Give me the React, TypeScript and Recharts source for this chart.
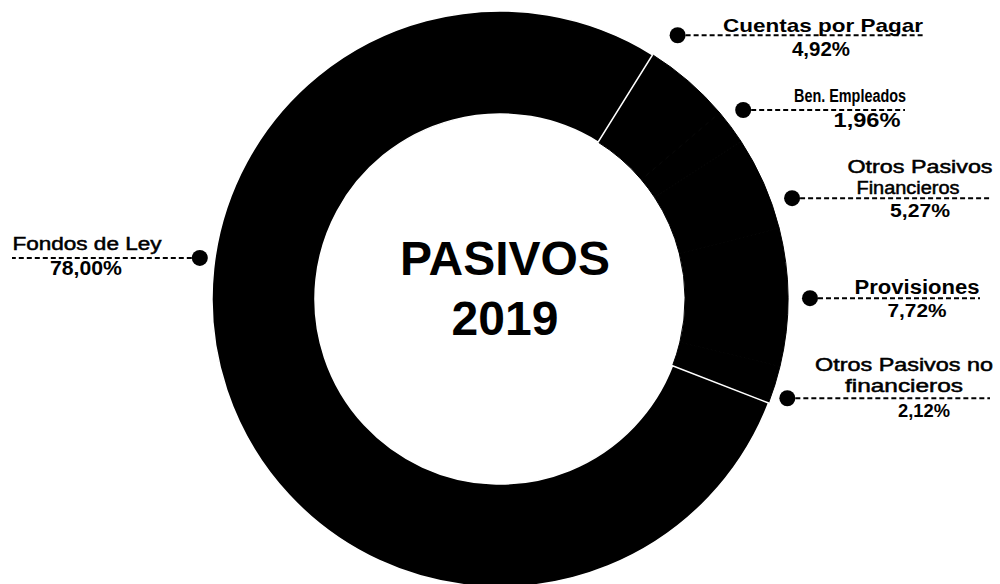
import { PieChart, Pie, Cell } from "recharts";

// Participación de cada pasivo (en %), en orden horario desde arriba
const categories = [
  "Cuentas por Pagar",
  "Ben. Empleados",
  "Otros Pasivos Financieros",
  "Provisiones",
  "Otros Pasivos no financieros",
  "Fondos de Ley",
];
const shares = [4.92, 1.96, 5.27, 7.72, 2.12, 78.0];
// Cómo se parte cada nombre en la etiqueta
const nameLines = [
  ["Cuentas por Pagar"],
  ["Ben. Empleados"],
  ["Otros Pasivos", "Financieros"],
  ["Provisiones"],
  ["Otros Pasivos no", "financieros"],
  ["Fondos de Ley"],
];

const data = categories.map((name, i) => ({ name, value: shares[i] }));
const fmt = (v: number) => v.toFixed(2).replace(".", ",") + "%";

// Ubicación de las etiquetas (anotaciones): desfase angular del punto,
// fin de la línea guía y cajas de texto
interface TextBox { cx: number; y: number; w: number; size: number; bold?: boolean }
interface LabelLayout { nudge: number; r: number; lineEnd: number; names: TextBox[]; pct: TextBox }

const labelLayout: LabelLayout[] = [
  { nudge: 6.9, r: 318, lineEnd: 923, names: [{ cx: 823, y: 32, w: 200, size: 19, bold: true }], pct: { cx: 821, y: 56, w: 58, size: 20, bold: true } },
  { nudge: 1.1, r: 308, lineEnd: 905, names: [{ cx: 850, y: 102, w: 112, size: 18, bold: true }], pct: { cx: 867, y: 127, w: 67, size: 20, bold: true } },
  { nudge: -4.7, r: 309, lineEnd: 992, names: [{ cx: 920, y: 173, w: 145, size: 18 }, { cx: 908, y: 194, w: 103, size: 18 }], pct: { cx: 920, y: 217, w: 60, size: 18, bold: true } },
  { nudge: -0.2, r: 310, lineEnd: 980, names: [{ cx: 917, y: 294, w: 125, size: 20, bold: true }], pct: { cx: 917, y: 317, w: 59, size: 19, bold: true } },
  { nudge: -1.7, r: 304, lineEnd: 990, names: [{ cx: 904, y: 371, w: 178, size: 18 }, { cx: 904, y: 392, w: 118, size: 18 }], pct: { cx: 924, y: 417, w: 52, size: 18, bold: true } },
  { nudge: -26.2, r: 303, lineEnd: 12, names: [{ cx: 87, y: 250, w: 149, size: 18 }], pct: { cx: 86, y: 275, w: 72, size: 20, bold: true } },
];

const RAD = Math.PI / 180;
const FONT = "'Liberation Sans', Arial, sans-serif";

const PieLabel = (props: any) => {
  const { cx, cy, midAngle, index } = props;
  const lay = labelLayout[index];
  if (!lay) return null;
  const a = (midAngle + lay.nudge) * RAD;
  const px = cx + lay.r * Math.cos(a);
  const py = cy - lay.r * Math.sin(a);
  const lines = nameLines[index];

  // los textos normales del original se ven algo gruesos
  const txt = (b: TextBox, s: string, k: string) => (
    <text
      key={k}
      x={b.cx}
      y={b.y}
      textAnchor="middle"
      textLength={b.w}
      lengthAdjust="spacingAndGlyphs"
      fontFamily={FONT}
      fontSize={b.size}
      fontWeight={b.bold ? 700 : 400}
      fill="#000"
      stroke={b.bold ? "none" : "#000"}
      strokeWidth={0.5}
    >
      {s}
    </text>
  );

  return (
    <g>
      <line x1={px} y1={py} x2={lay.lineEnd} y2={py} stroke="#000" strokeWidth={2} strokeDasharray="5 3" />
      <circle cx={px} cy={py} r={8} fill="#000" />
      {lay.names.map((b, i) => txt(b, lines[i], "n" + i))}
      {txt(lay.pct, fmt(shares[index]), "p")}
    </g>
  );
};

export default function App() {
  return (
    <div style={{ position: "absolute", left: 0, top: 0, width: 1000, height: 584, background: "#fff" }}>
      <PieChart width={1000} height={584} margin={{ top: 0, right: 0, bottom: 0, left: 0 }}>
        <Pie
          data={data}
          dataKey="value"
          nameKey="name"
          cx={500}
          cy={299}
          innerRadius={185}
          outerRadius={288}
          startAngle={58}
          endAngle={-302}
          label={PieLabel}
          labelLine={false}
          isAnimationActive={false}
        >
          {data.map((d, i) => (
            <Cell
              key={d.name}
              fill="#000"
              stroke={i === data.length - 1 ? "#fff" : "#000"}
              strokeWidth={i === data.length - 1 ? 1.5 : 1}
            />
          ))}
        </Pie>
        <text x={505} y={275} textAnchor="middle" fontFamily={FONT} fontWeight={700} fontSize={48} fill="#000">
          PASIVOS
        </text>
        <text x={505} y={335} textAnchor="middle" fontFamily={FONT} fontWeight={700} fontSize={48} fill="#000">
          2019
        </text>
      </PieChart>
    </div>
  );
}
